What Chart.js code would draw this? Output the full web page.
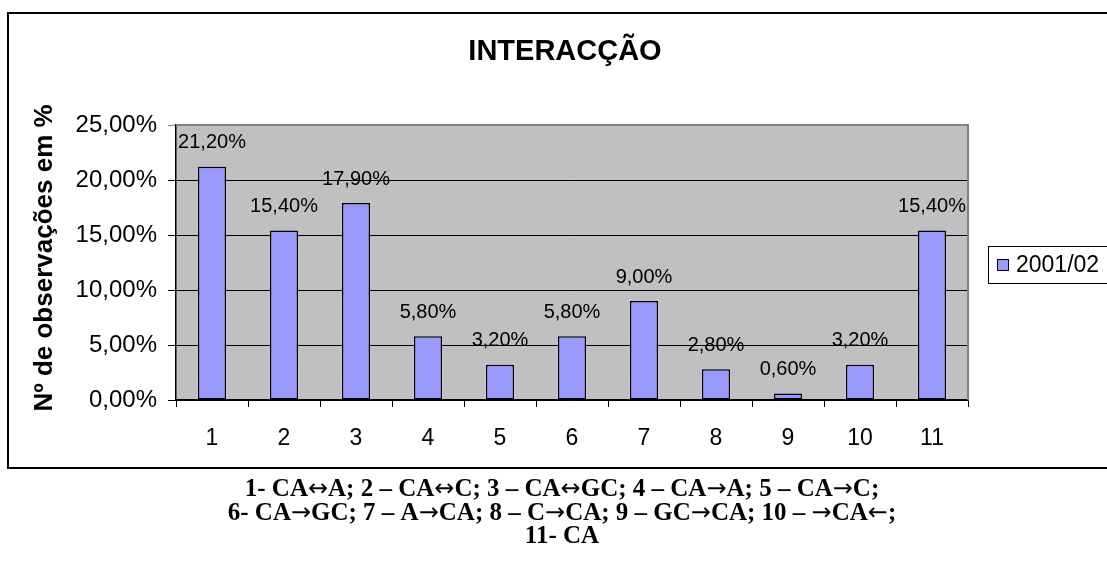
<!DOCTYPE html>
<html lang="pt">
<head>
<meta charset="utf-8">
<title>Interacção</title>
<script src="https://cdn.jsdelivr.net/npm/chart.js@4.4.1/dist/chart.umd.min.js"></script>
<style>
  html, body { margin: 0; padding: 0; background: #ffffff; }
  #wrap { position: relative; width: 1107px; height: 574px; }
  canvas { display: block; }
</style>
</head>
<body>
<div id="wrap"><canvas id="chart" width="1107" height="574"></canvas></div>
<script>
// Categories (interaction types) and observed percentages
const categories = ['1', '2', '3', '4', '5', '6', '7', '8', '9', '10', '11'];
const values2001 = [21.2, 15.4, 17.9, 5.8, 3.2, 5.8, 9.0, 2.8, 0.6, 3.2, 15.4];
const seriesName = '2001/02';
const yTicks = [0, 5, 10, 15, 20, 25];
const chartTitle = 'INTERACÇÃO';
const yAxisTitle = 'Nº de observações em %';
const captionLines = [
  '1- CA\u2194A; 2 \u2013 CA\u2194C; 3 \u2013 CA\u2194GC; 4 \u2013 CA\u2192A; 5 \u2013 CA\u2192C;',
  '6- CA\u2192GC; 7 \u2013 A\u2192CA; 8 \u2013 C\u2192CA; 9 \u2013 GC\u2192CA; 10 \u2013 \u2192CA\u2190;',
  '11- CA'
];

const pct = v => v.toFixed(2).replace('.', ',') + '%';
const SANS = 'Arial, "Liberation Sans", Helvetica, sans-serif';
const SERIF = '"Times New Roman", "Liberation Serif", serif';
const CAPTION_FONT = 'bold 25px ' + SERIF;
const ARROW_FONT = '24px "DejaVu Sans", sans-serif';

// draws a caption line centred on cx, using a wider font for the arrow glyphs
function drawCaption(ctx, text, cx, y) {
  const runs = [];
  for (const ch of text) {
    const isArrow = '\u2190\u2192\u2194'.includes(ch);
    const font = isArrow ? ARROW_FONT : CAPTION_FONT;
    if (runs.length && runs[runs.length - 1].font === font) runs[runs.length - 1].text += ch;
    else runs.push({ font, text: ch });
  }
  let total = 0;
  runs.forEach(r => { ctx.font = r.font; r.w = ctx.measureText(r.text).width; total += r.w; });
  let x = cx - total / 2;
  ctx.textAlign = 'left';
  ctx.textBaseline = 'alphabetic';
  runs.forEach(r => { ctx.font = r.font; ctx.fillText(r.text, x, y); x += r.w; });
}

const decor = {
  id: 'decor',
  beforeDraw(chart) {
    const { ctx, chartArea: a } = chart;
    ctx.save();
    ctx.fillStyle = '#ffffff';
    ctx.fillRect(0, 0, chart.width, chart.height);
    // outer frame
    ctx.strokeStyle = '#000000';
    ctx.lineWidth = 2;
    ctx.strokeRect(8, 13, 1110, 455);
    // plot background
    ctx.fillStyle = '#C0C0C0';
    ctx.fillRect(a.left, a.top, a.right - a.left, a.bottom - a.top);
    ctx.restore();
  },
  afterDraw(chart) {
    const { ctx, chartArea: a } = chart;
    ctx.save();
    // top and right plot border
    ctx.strokeStyle = '#808080';
    ctx.lineWidth = 2;
    ctx.beginPath();
    ctx.moveTo(a.left, a.top);
    ctx.lineTo(a.right, a.top);
    ctx.lineTo(a.right, a.bottom);
    ctx.stroke();

    // value labels above bars
    const meta = chart.getDatasetMeta(0);
    ctx.fillStyle = '#000000';
    ctx.font = '20px ' + SANS;
    ctx.textAlign = 'center';
    ctx.textBaseline = 'middle';
    meta.data.forEach((bar, i) => {
      ctx.fillText(pct(values2001[i]), bar.x, bar.y - 24);
    });

    // chart title
    ctx.font = 'bold 29px ' + SANS;
    ctx.fillText(chartTitle, 565, 52);

    // y axis title
    ctx.save();
    ctx.translate(45, 258);
    ctx.rotate(-Math.PI / 2);
    ctx.font = 'bold 26px ' + SANS;
    ctx.fillText(yAxisTitle, 0, 0);
    ctx.restore();

    // legend
    ctx.fillStyle = '#ffffff';
    ctx.fillRect(988, 246, 130, 37);
    ctx.strokeStyle = '#000000';
    ctx.lineWidth = 1;
    ctx.strokeRect(988.5, 246.5, 130, 37);
    ctx.fillStyle = '#9999FF';
    ctx.fillRect(997.5, 259.5, 11, 11);
    ctx.strokeRect(997.5, 259.5, 11, 11);
    ctx.fillStyle = '#000000';
    ctx.font = '23px ' + SANS;
    ctx.textAlign = 'left';
    ctx.fillText(seriesName, 1016, 266);

    // caption under the frame
    captionLines.forEach((line, i) => drawCaption(ctx, line, 562, 496 + i * 23.5));
    ctx.restore();
  }
};

new Chart(document.getElementById('chart'), {
  type: 'bar',
  data: {
    labels: categories,
    datasets: [{
      label: seriesName,
      data: values2001,
      backgroundColor: '#9999FF',
      borderColor: '#000000',
      borderWidth: 1.5,
      borderSkipped: false,
      barPercentage: 0.39,
      categoryPercentage: 1.0
    }]
  },
  options: {
    responsive: false,
    animation: false,
    devicePixelRatio: 1,
    layout: { padding: { left: 0, top: 125, right: 1107 - 968, bottom: 124 } },
    plugins: { legend: { display: false }, title: { display: false }, tooltip: { enabled: false } },
    scales: {
      x: {
        offset: true,
        grid: { offset: true, drawOnChartArea: false, color: '#000000', tickLength: 7, lineWidth: 1 },
        border: { color: '#000000', width: 1.5 },
        ticks: { color: '#000000', font: { family: SANS, size: 23 }, padding: 18, maxRotation: 0 },
        afterFit(scale) { scale.height = 50; }
      },
      y: {
        min: 0,
        max: 25,
        afterBuildTicks(scale) { scale.ticks = yTicks.map(v => ({ value: v })); },
        grid: {
          color: ctx => (ctx.tick && ctx.tick.value === 25 ? '#808080' : '#000000'),
          tickLength: 8,
          lineWidth: 1
        },
        border: { color: '#000000', width: 1.5 },
        ticks: { color: '#000000', font: { family: SANS, size: 24 }, padding: 11, callback: v => pct(v) },
        afterFit(scale) { scale.width = 176; }
      }
    }
  },
  plugins: [decor]
});
</script>
</body>
</html>
